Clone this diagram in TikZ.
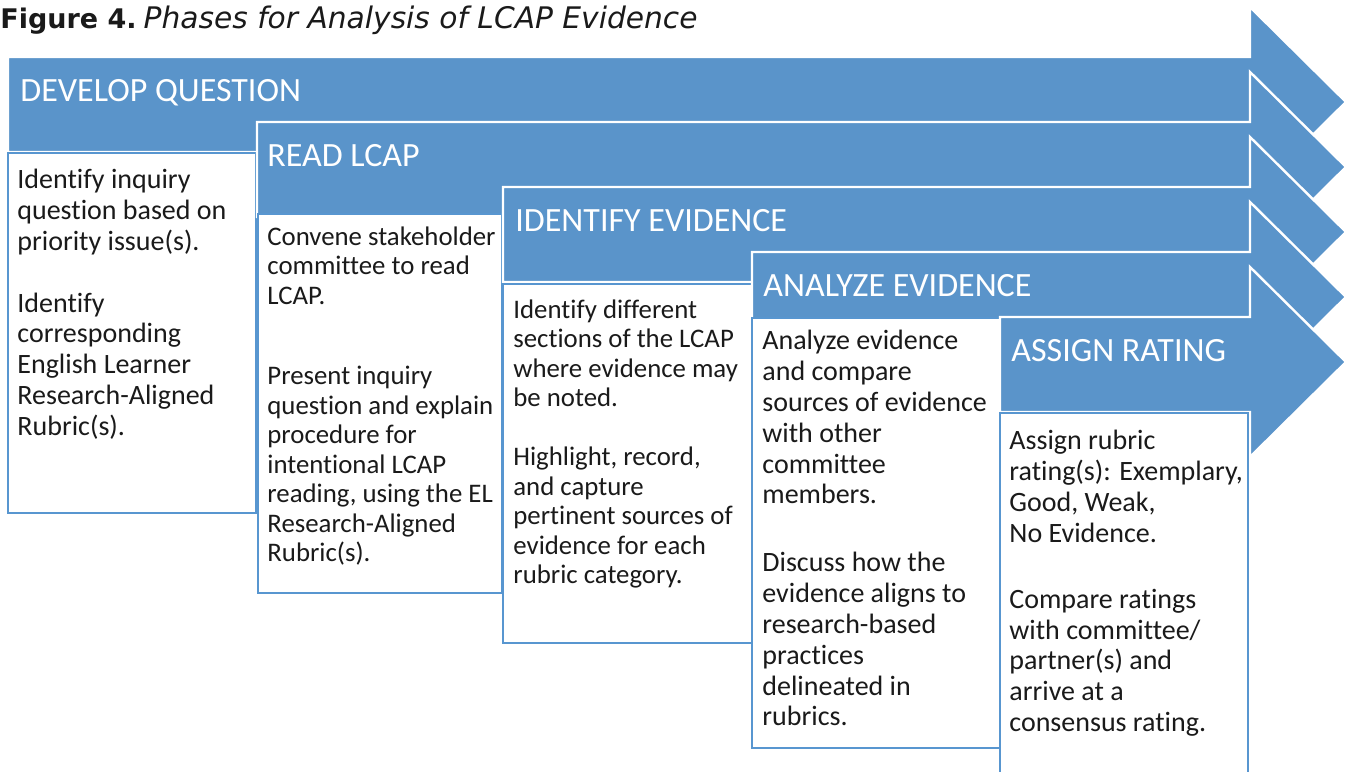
\documentclass[tikz,border=0pt]{standalone}
\usepackage{fontspec}
\setmainfont[Ligatures=NoCommon]{Carlito}
\newfontfamily\titlefont{DejaVu Sans}
\definecolor{phaseblue}{RGB}{90,148,202}
\definecolor{boxblue}{RGB}{88,150,208}
\definecolor{bodytext}{RGB}{26,26,26}
\begin{document}
\begin{tikzpicture}[x=0.5pt,y=-0.5pt]
	\tikzstyle{every node}+=[inner sep=0pt]
	\tikzstyle{phase}=[fill=phaseblue, draw=white, line width=1.2pt, line join=miter]
	\tikzstyle{phasebox}=[fill=white, draw=boxblue, line width=1.2pt]
	\tikzstyle{head}=[anchor=base west, text=white, font=\fontsize{17}{20}\selectfont]
	\tikzstyle{body}=[anchor=north west, align=left, text=bodytext, font=\fontsize{14}{15.4}\selectfont]
	\useasboundingbox (0,0) rectangle (1347,771);
	\draw (0,28) node [anchor=base west, text=bodytext, font=\titlefont] (title) {{\fontsize{13.5}{17}\selectfont\textbf{Figure 4.}}\hspace{3.5pt}{\fontsize{14.85}{17}\selectfont\textit{Phases for Analysis of LCAP Evidence}}};
	% develop question
	\filldraw [phase] (8,57) -- (1250,57) -- (1250,7) -- (1346,102) -- (1250,197) -- (1250,152) -- (8,152) -- cycle;
	\draw (20,101.5) node [head] (develop) {DEVELOP QUESTION};
	\filldraw [phasebox] (8,153) rectangle (256,513);
	\draw (17,169) node [body] (developtext) {Identify inquiry\\question based on\\priority issue(s).\\[15.4pt]Identify\\corresponding\\English Learner\\Research-Aligned\\Rubric(s).};
	% read lcap
	\filldraw [phase] (257,122) -- (1250,122) -- (1250,72) -- (1346,167) -- (1250,262) -- (1250,217) -- (257,217) -- cycle;
	\draw (267,166.5) node [head] (readlcap) {READ LCAP};
	\filldraw [phasebox] (258,214) rectangle (502,593);
	\draw (267,226) node [body, font=\fontsize{13.4}{14.75}\selectfont] (readtext) {Convene stakeholder\\committee to read\\LCAP.\\[25.5pt]Present inquiry\\question and explain\\procedure for\\intentional LCAP\\reading, using the EL\\Research-Aligned\\Rubric(s).};
	% identify evidence
	\filldraw [phase] (503,187) -- (1250,187) -- (1250,137) -- (1346,232) -- (1250,327) -- (1250,282) -- (503,282) -- cycle;
	\draw (515,231.5) node [head] (identify) {IDENTIFY EVIDENCE};
	\filldraw [phasebox] (503,284) rectangle (752,643);
	\draw (513,299) node [body, font=\fontsize{13.4}{14.75}\selectfont] (identifytext) {Identify different\\sections of the LCAP\\where evidence may\\be noted.\\[14.75pt]Highlight, record,\\and capture\\pertinent sources of\\evidence for each\\rubric category.};
	% analyze evidence
	\filldraw [phase] (752,252) -- (1250,252) -- (1250,202) -- (1346,297) -- (1250,392) -- (1250,347) -- (752,347) -- cycle;
	\draw (763,296.5) node [head] (analyze) {ANALYZE EVIDENCE};
	\filldraw [phasebox] (752,318) rectangle (1000,748);
	\draw (762,330) node [body] (analyzetext) {Analyze evidence\\and compare\\sources of evidence\\with other\\committee\\members.\\[18.6pt]Discuss how the\\evidence aligns to\\research-based\\practices\\delineated in\\rubrics.};
	% assign rating
	\filldraw [phase] (1000,317) -- (1250,317) -- (1250,267) -- (1346,362) -- (1250,457) -- (1250,412) -- (1000,412) -- cycle;
	\draw (1011,361.5) node [head] (assign) {ASSIGN RATING};
	\filldraw [phasebox] (1000,413) rectangle (1248,790);
	\draw (1009,430) node [body] (assigntext) {Assign rubric\\rating(s): Exemplary,\\Good, Weak,\\No Evidence.\\[17.6pt]Compare ratings\\with committee/\\partner(s) and\\arrive at a\\consensus rating.};
\end{tikzpicture}
\end{document}
